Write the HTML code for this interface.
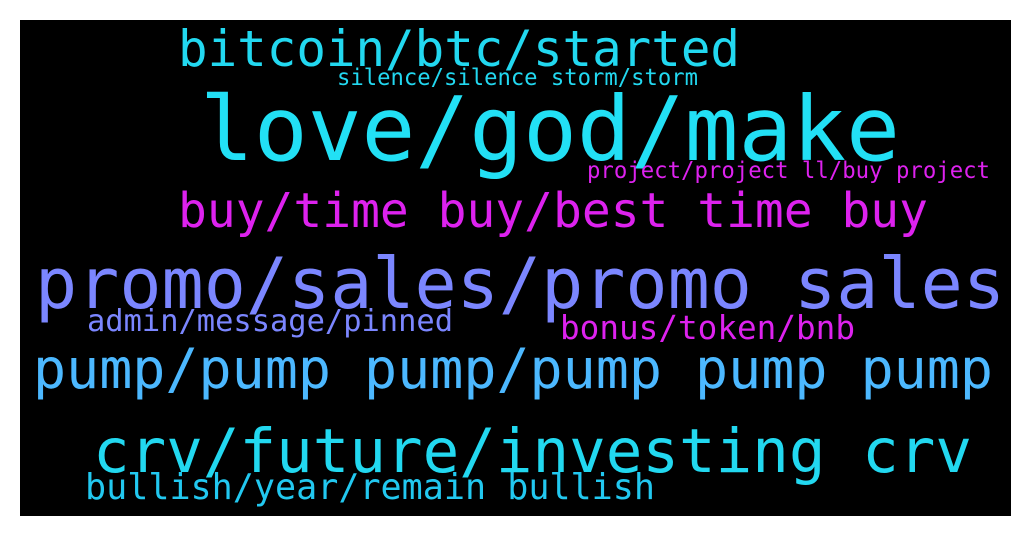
<!DOCTYPE html>
<html><head><meta charset="utf-8"><style>
html,body{margin:0;padding:0;background:#fff;width:1031px;height:536px;overflow:hidden}
svg text{font-family:"DejaVu Sans Mono","Liberation Mono",monospace}
</style></head><body>
<svg width="1031" height="536">
<rect x="20" y="20" width="991" height="496" fill="#000"/>
<g id="words"></g>
</svg>
<script>
const words=["bitcoin/btc/started","silence/silence storm/storm","love/god/make","project/project ll/buy project","buy/time buy/best time buy","promo/sales/promo sales","admin/message/pinned","bonus/token/bnb","pump/pump pump/pump pump pump","crv/future/investing crv","bullish/year/remain bullish"];
const sizes=[50,23,89,23,48,70,30,33,55,61,36];
const colors=["#22d8f0","#22d8f0","#22e0f5","#dd22ee","#dd22ee","#7b86ff","#7b86ff","#dd22ee","#4cb8ff","#22d8f0","#22c8f0"];
const xs=[178,337,200,587,178,35,87,560,33,93,85];
const ws=[562,361,700,403,750,970,366,295,960,879,570];
const ys=[66,85,160,178,227,308,331,339,388,472,499];
const g=document.getElementById('words');
words.forEach((w,i)=>{
 const t=document.createElementNS('http://www.w3.org/2000/svg','text');
 
 
 t.setAttribute('x',xs[i]);t.setAttribute('y',ys[i]);
 t.setAttribute('font-size',sizes[i]);t.setAttribute('fill',colors[i]);
 t.setAttribute('textLength',ws[i]);t.setAttribute('lengthAdjust','spacingAndGlyphs');
 t.textContent=w;g.appendChild(t);
});
</script>
</body></html>
